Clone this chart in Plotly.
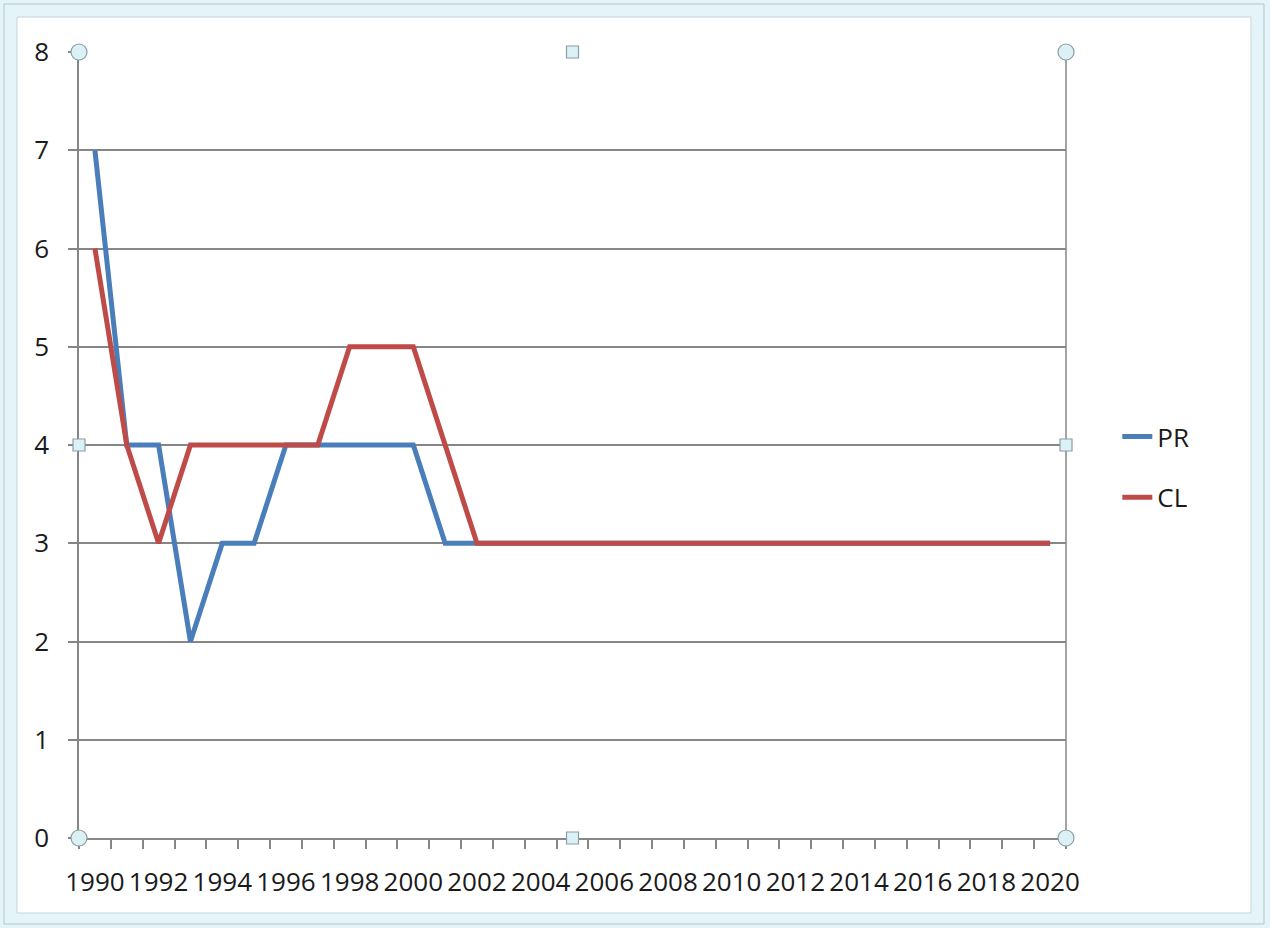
import plotly.graph_objects as go

years = list(range(1990, 2021))
pr = [7, 4, 4, 2, 3, 3, 4, 4, 4, 4, 4, 3, 3] + [3] * 18
cl = [6, 4, 3, 4, 4, 4, 4, 4, 5, 5, 5, 4, 3] + [3] * 18
y_ticks = list(range(0, 9))
x_labels = [str(y) for y in range(1990, 2021, 2)]

W, H = 1270, 928
L, R, T, B = 79, 204, 52, 90
PW, PH = W - L - R, H - T - B
GRID = "#868686"
FONT = "Open Sans"


def px(x):
    return (x - L) / PW


def py(y):
    return (H - B - y) / PH


fig = go.Figure()
fig.add_trace(go.Scatter(x=years, y=pr, mode="lines", name="PR",
                         line=dict(color="#4a7ebb", width=5), legendgroup="a"))
fig.add_trace(go.Scatter(x=years, y=cl, mode="lines", name="CL",
                         line=dict(color="#be4b48", width=5), legendgroup="b"))

shapes = [
    # chart frame
    dict(type="rect", xref="paper", yref="paper", x0=px(4), x1=px(1264), y0=py(4), y1=py(924),
         fillcolor="#e4f4f9", line=dict(color="#b3c7cf", width=1), layer="below"),
    dict(type="rect", xref="paper", yref="paper", x0=px(17), x1=px(1251), y0=py(17), y1=py(913),
         fillcolor="white", line=dict(color="#c3d7dd", width=1), layer="below"),
    # plot area right border
    dict(type="line", xref="x domain", yref="y domain", x0=1, x1=1, y0=0, y1=1,
         line=dict(color=GRID, width=1.5)),
]

# selection handles
for hx, hy, kind in [(0, 0, "circle"), (1, 0, "circle"), (0, 1, "circle"), (1, 1, "circle"),
                     (0.5, 0, "rect"), (0.5, 1, "rect"), (0, 0.5, "rect"), (1, 0.5, "rect")]:
    r = 8 if kind == "circle" else 6
    shapes.append(dict(type=kind, xref="x domain", yref="y domain",
                       xsizemode="pixel", ysizemode="pixel", xanchor=hx, yanchor=hy,
                       x0=-r, x1=r, y0=-r, y1=r,
                       fillcolor="#dcf1f6", line=dict(color="#8a9ea6", width=1.2)))

fig.update_layout(
    width=W, height=H,
    margin=dict(l=L, r=R, t=T, b=B),
    paper_bgcolor="#e4f4f9",
    plot_bgcolor="rgba(0,0,0,0)",
    font=dict(family=FONT, size=26, color="#1a1a1a"),
    showlegend=True,
    legend=dict(x=1.052, y=0.472, xanchor="left", yanchor="middle",
                tracegroupgap=24, font=dict(size=26), bgcolor="rgba(0,0,0,0)"),
    shapes=shapes,
    xaxis=dict(range=[1989.5, 2020.5], tickmode="array", tickvals=list(range(1990, 2021, 2)),
               ticktext=x_labels, ticks="", showgrid=False, zeroline=False,
               showline=True, linecolor=GRID, linewidth=1.5, ticklabelstandoff=20,
               minor=dict(ticks="outside", tickmode="linear", tick0=1989.5, dtick=1,
                          ticklen=9, tickcolor=GRID, tickwidth=1.5, showgrid=False)),
    yaxis=dict(range=[0, 8], tickvals=y_ticks, ticks="outside", ticklen=9, tickcolor=GRID,
               tickwidth=1.5, showgrid=True, gridcolor=GRID, gridwidth=1.5, zeroline=False,
               showline=True, linecolor=GRID, linewidth=1.5, ticklabelstandoff=14),
)

fig.write_html("out.html", config={"displayModeBar": False},
               post_script="document.body.style.margin = '0';")
